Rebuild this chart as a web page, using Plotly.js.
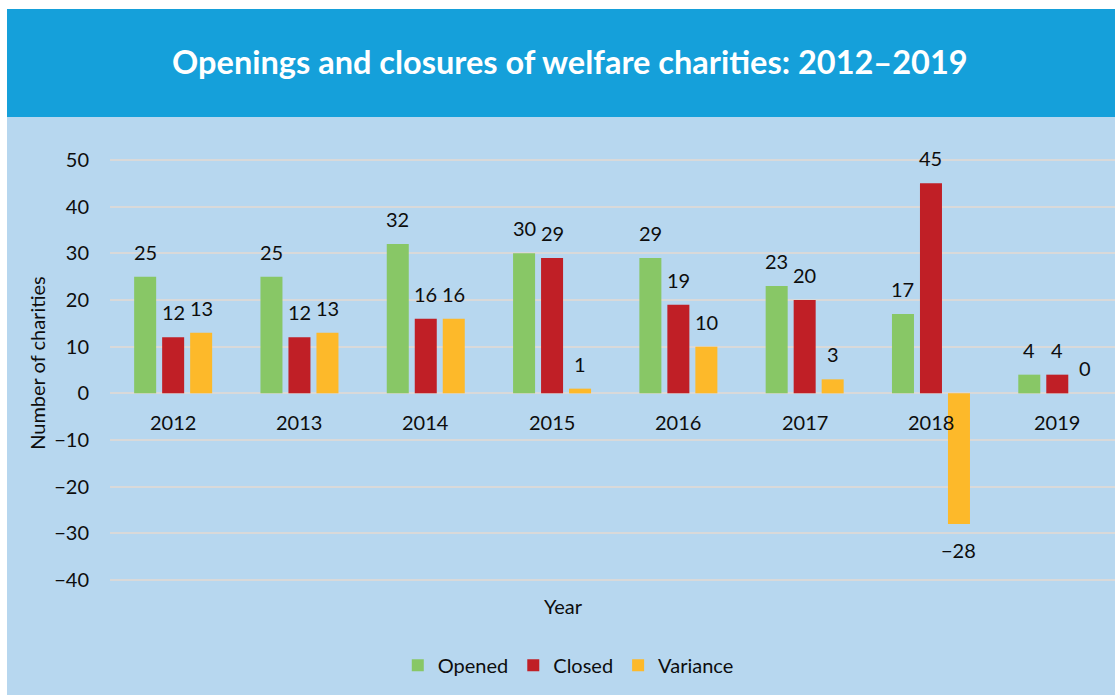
<!DOCTYPE html>
<html>
<head>
<meta charset="utf-8">
<script src="https://cdn.plot.ly/plotly-3.0.1.min.js"></script>
<style>
html,body{margin:0;padding:0;background:#ffffff;overflow:hidden;}
#chart{position:absolute;left:7px;top:9px;width:1108px;height:686px;}
</style>
</head>
<body>
<div id="chart"></div>
<script>
const years = [2012, 2013, 2014, 2015, 2016, 2017, 2018, 2019];
const opened = [25, 25, 32, 30, 29, 23, 17, 4];
const closed = [12, 12, 16, 29, 19, 20, 45, 4];
const variance = [13, 13, 16, 1, 10, 3, -28, 0];
const seriesNames = ['Opened', 'Closed', 'Variance'];
const seriesColors = ['#88C766', '#C01F26', '#FDB92A'];
const yTicks = [-40, -30, -20, -10, 0, 10, 20, 30, 40, 50];

const FONT = 'Lato, "Open Sans", sans-serif';
const bargap = 0.335;
const step = (1 - bargap) / 3;

const allSeries = [opened, closed, variance];
const traces = allSeries.map((vals, k) => ({
  type: 'bar',
  x: years,
  y: vals,
  name: seriesNames[k],
  marker: {color: seriesColors[k], line: {width: 0}},
  hoverinfo: 'x+y+name'
}));

const annotations = [];
allSeries.forEach((vals, k) => {
  vals.forEach((v, i) => {
    const label = v < 0 ? '\u2212' + Math.abs(v) : String(v);
    annotations.push({
      x: years[i] + (k - 1) * step, y: v, xref: 'x', yref: 'y',
      text: label, showarrow: false,
      yanchor: 'middle', yshift: v < 0 ? -26 : 25,
      font: {family: FONT, size: 20, color: '#0d0d0d'}
    });
  });
});
years.forEach(yr => {
  annotations.push({
    x: yr, y: 0, xref: 'x', yref: 'y', text: String(yr), showarrow: false,
    yanchor: 'middle', yshift: -29,
    font: {family: FONT, size: 20, color: '#0d0d0d'}
  });
});
annotations.push({
  x: 0.451, y: 0.008, xref: 'paper', yref: 'paper', text: 'Year', showarrow: false,
  xanchor: 'center', yanchor: 'middle',
  font: {family: FONT, size: 20, color: '#0d0d0d'}
});
annotations.push({
  x: -0.0726, y: 0.515, xref: 'paper', yref: 'paper', text: 'Number of charities',
  showarrow: false, textangle: -90, xanchor: 'center', yanchor: 'middle',
  font: {family: FONT, size: 20, color: '#0d0d0d'}
});

const layout = {
  width: 1108, height: 686,
  margin: {l: 103, r: 0, t: 121, b: 85},
  paper_bgcolor: '#B7D7EF',
  plot_bgcolor: 'rgba(0,0,0,0)',
  barmode: 'group',
  bargap: bargap,
  bargroupgap: 0.214,
  title: {
    text: 'Openings and closures of welfare charities: 2012\u20132019',
    x: 0.508, xref: 'container', xanchor: 'center',
    y: 1 - 54 / 686, yref: 'container', yanchor: 'middle',
    font: {family: FONT, size: 32.5, color: '#ffffff', weight: 'bold'}
  },
  shapes: [{
    type: 'rect', xref: 'paper', yref: 'paper', layer: 'below',
    x0: -103 / 1005, x1: 1, y0: 1 + 13 / 480, y1: 1 + 121 / 480,
    fillcolor: '#15A0DA', line: {width: 0}
  }],
  xaxis: {
    range: [2011.5, 2019.457],
    showticklabels: false, showgrid: false, zeroline: false, showline: false,
    ticks: '', fixedrange: true
  },
  yaxis: {
    range: [-46.44, 56.44],
    tickvals: yTicks,
    showgrid: true, gridcolor: '#D9D9D9', gridwidth: 2,
    zeroline: true, zerolinecolor: '#D9D9D9', zerolinewidth: 2,
    showline: false, ticks: '',
    ticklabelstandoff: 20,
    tickfont: {family: FONT, size: 20, color: '#0d0d0d'},
    fixedrange: true
  },
  showlegend: true,
  legend: {
    orientation: 'h', x: 0.456, xanchor: 'center', y: -0.115, yanchor: 'middle',
    font: {family: FONT, size: 20, color: '#0d0d0d'},
    bgcolor: 'rgba(0,0,0,0)', itemwidth: 30, traceorder: 'normal'
  },
  annotations: annotations
};

Plotly.newPlot('chart', traces, layout, {displayModeBar: false, staticPlot: true});
</script>
</body>
</html>
